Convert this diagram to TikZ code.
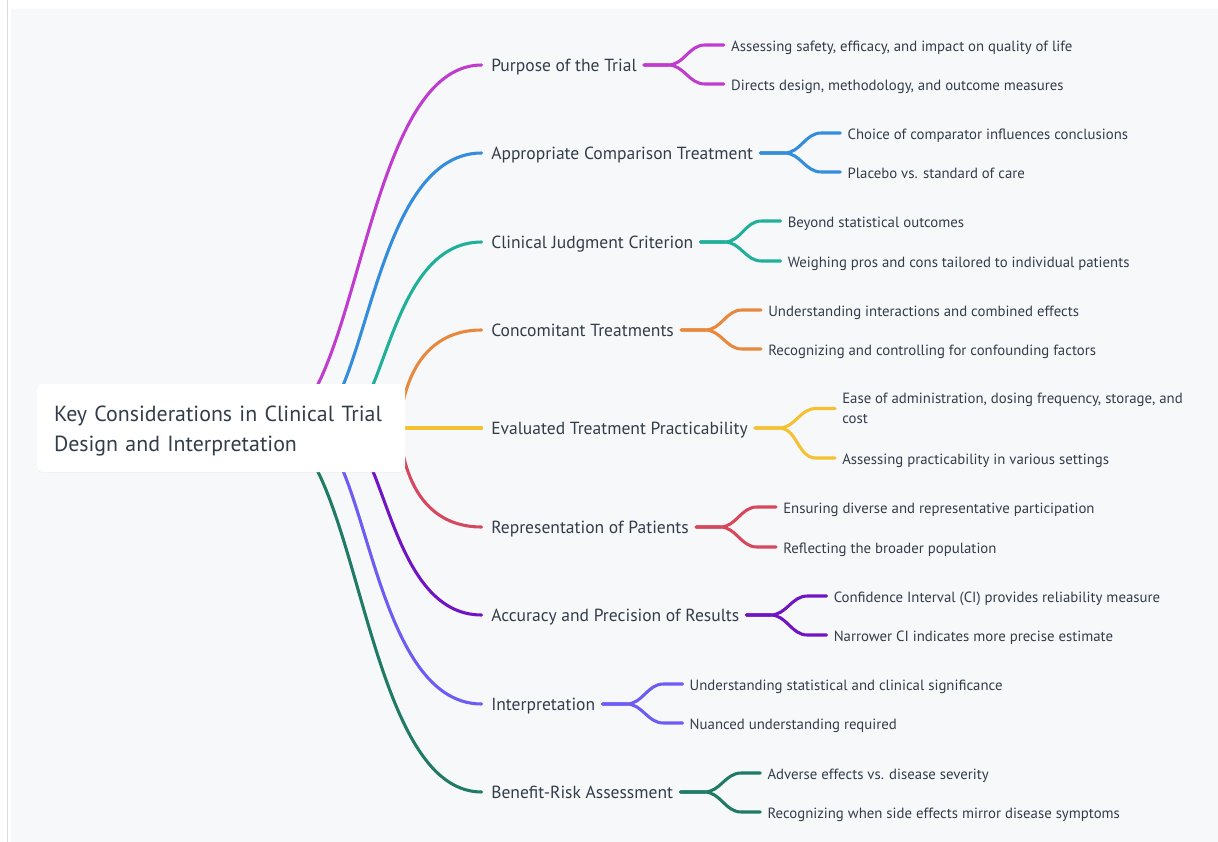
\documentclass[tikz,border=0pt]{standalone}
\usepackage{fontspec}
\setmainfont{PT Sans}
\usetikzlibrary{calc,shadows}
\pgfdeclarelayer{back}
\pgfdeclarelayer{links}
\pgfsetlayers{back,links,main}
\definecolor{bgc}{HTML}{F7F8FA}
\definecolor{edgec}{HTML}{D9D9E0}
\definecolor{txt}{HTML}{333D4A}
\definecolor{cA}{HTML}{C03CCF}
\definecolor{cB}{HTML}{348CDC}
\definecolor{cC}{HTML}{20B09A}
\definecolor{cD}{HTML}{E8883D}
\definecolor{cE}{HTML}{F5C130}
\definecolor{cF}{HTML}{D6485E}
\definecolor{cG}{HTML}{7015C4}
\definecolor{cH}{HTML}{6C5CF5}
\definecolor{cI}{HTML}{1F7A66}
\tikzset{
  rootbox/.style={draw=none, fill=white, rounded corners=4pt, inner xsep=12.75pt, inner ysep=0pt,
    text width=250.5pt, minimum height=66pt, align=left, text=txt,
    font=\fontsize{16.4}{22.5}\selectfont, drop shadow={opacity=0.06, shadow xshift=0pt, shadow yshift=-0.8pt}},
  l1/.style={inner sep=0pt, text=txt, font=\fontsize{13.15}{16}\selectfont, text height=0.95em, text depth=0em},
  l2m/.style={inner sep=0pt, text=txt, font=\fontsize{11.1}{15}\selectfont, align=left},
  l2/.style={l2m, text height=0.95em, text depth=0em},
  br/.style={line width=2.3pt, line cap=round}
}
\newcommand\leaf[6][l2]{%
  \path (#3.east) ++(94,0) coordinate (#2-x);
  \node[#1, anchor=west] (#2) at (#2-x |- 0,#4) {#6};
  \begin{pgfonlayer}{links}
  \draw[#5, br] ($(#3.east)+(7,0)$) -- ++(24,0) to[out=0,in=180] ($(#2.west)+(-26,0)$) -- ($(#2.west)+(-7,0)$);
  \end{pgfonlayer}
}
\newcommand\branch[5]{% name, y, color, startx, ctrlx
  \coordinate (#1-s) at (#4,428);
  \begin{pgfonlayer}{links}
  \draw[#3, br, shorten >=7] (#1-s) .. controls (#5,428) and (#5,#2) .. (#1.west);
  \end{pgfonlayer}
}
\begin{document}
\begin{tikzpicture}[x=0.75pt,y=-0.75pt]
\useasboundingbox (0,0) rectangle (1218,842);
\begin{pgfonlayer}{back}
\fill[white] (0,0) rectangle (1218,842);
\fill[bgc] (11,9) rectangle (1218,842);
\draw[edgec, line width=0.9pt] (7.5,0) -- (7.5,842);
\end{pgfonlayer}

\node[rootbox] (root) at (221,428) {\rule{0pt}{16.5pt}Key Considerations in Clinical Trial\\Design and Interpretation};

\node[l1, anchor=west] (p1) at (491,65) {Purpose of the Trial};
\node[l1, anchor=west] (p2) at (491,153) {Appropriate Comparison Treatment};
\node[l1, anchor=west] (p3) at (491,242) {Clinical Judgment Criterion};
\node[l1, anchor=west] (p4) at (491,330) {Concomitant Treatments};
\node[l1, anchor=west] (p5) at (491,428) {Evaluated Treatment Practicability};
\node[l1, anchor=west] (p6) at (491,527) {Representation of Patients};
\node[l1, anchor=west] (p7) at (491,615) {Accuracy and Precision of Results};
\node[l1, anchor=west] (p8) at (491,704) {Interpretation};
\node[l1, anchor=west] (p9) at (491,792) {Benefit-Risk Assessment};

\branch{p1}{65}{cA}{270}{360}
\branch{p2}{153}{cB}{305}{368}
\branch{p3}{242}{cC}{337}{386}
\branch{p4}{330}{cD}{400}{400}
\coordinate (p5-s) at (380,428);
\begin{pgfonlayer}{links}
\draw[cE, br, shorten >=7] (p5-s) -- (p5.west);
\end{pgfonlayer}
\branch{p6}{527}{cF}{400}{400}
\branch{p7}{615}{cG}{337}{386}
\branch{p8}{704}{cH}{305}{368}
\branch{p9}{792}{cI}{270}{360}

\leaf{q11}{p1}{45}{cA}{Assessing safety, efficacy, and impact on quality of life}
\leaf{q12}{p1}{84}{cA}{Directs design, methodology, and outcome measures}
\leaf{q21}{p2}{133}{cB}{Choice of comparator influences conclusions}
\leaf{q22}{p2}{172}{cB}{Placebo vs. standard of care}
\leaf{q31}{p3}{221}{cC}{Beyond statistical outcomes}
\leaf{q32}{p3}{261}{cC}{Weighing pros and cons tailored to individual patients}
\leaf{q41}{p4}{310}{cD}{Understanding interactions and combined effects}
\leaf{q42}{p4}{349}{cD}{Recognizing and controlling for confounding factors}
\leaf[l2m]{q51}{p5}{408.5}{cE}{Ease of administration, dosing frequency, storage, and\\cost}
\leaf{q52}{p5}{458}{cE}{Assessing practicability in various settings}
\leaf{q61}{p6}{507}{cF}{Ensuring diverse and representative participation}
\leaf{q62}{p6}{547}{cF}{Reflecting the broader population}
\leaf{q71}{p7}{596}{cG}{Confidence Interval (CI) provides reliability measure}
\leaf{q72}{p7}{635}{cG}{Narrower CI indicates more precise estimate}
\leaf{q81}{p8}{684}{cH}{Understanding statistical and clinical significance}
\leaf{q82}{p8}{723}{cH}{Nuanced understanding required}
\leaf{q91}{p9}{773}{cI}{Adverse effects vs. disease severity}
\leaf{q92}{p9}{812}{cI}{Recognizing when side effects mirror disease symptoms}
\end{tikzpicture}
\end{document}
